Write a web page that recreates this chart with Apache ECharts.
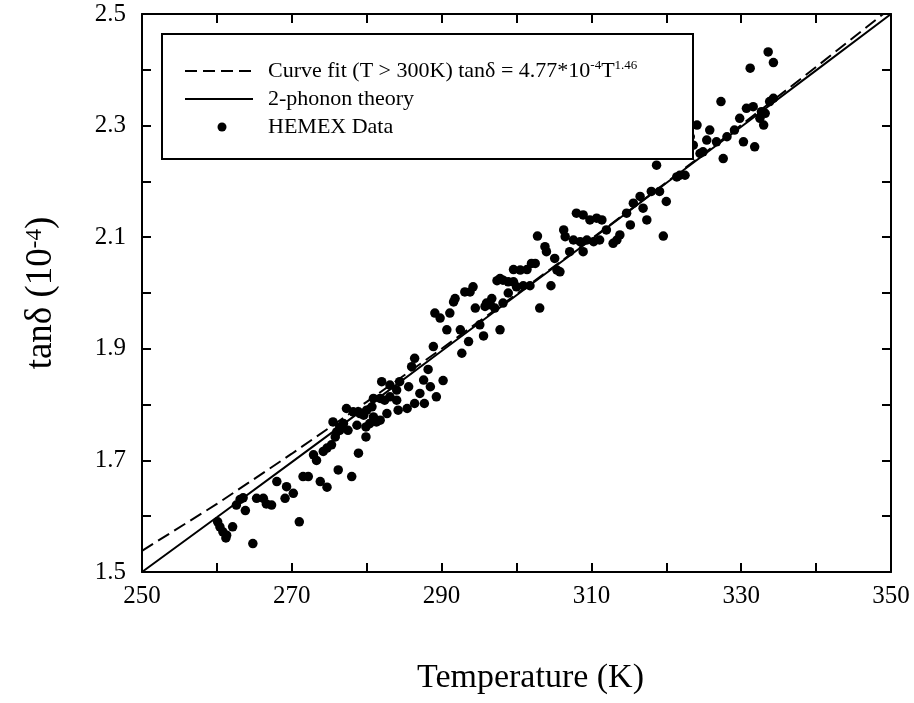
<!DOCTYPE html>
<html>
<head>
<meta charset="utf-8">
<script src="https://cdn.jsdelivr.net/npm/echarts@6/dist/echarts.min.js"></script>
<style>
html,body{margin:0;padding:0;background:#fff;}
#chart{width:914px;height:703px;}
</style>
</head>
<body>
<div id="chart"></div>
<script>
// ---- Data ----
const tempK = [
 260.1,260.4,260.8,261.2,261.3,262.1,264.8,262.6,263.1,263.8,263.5,265.3,266.2,266.6,267.3,268.0,269.3,270.2,269.1,271.0,
 271.5,272.2,273.8,274.7,272.9,273.3,274.2,274.7,275.3,275.8,276.0,276.4,276.2,278.0,278.9,277.3,278.2,276.9,277.5,278.7,
 279.9,279.1,280.0,280.9,280.4,281.8,282.7,282.4,280.9,282.0,284.0,284.2,
 302.8,303.8,304.0,305.1,305.4,304.6,303.1,299.6,300.5,301.4,302.0,302.5,297.4,298.2,299.6,300.0,300.9,301.8,298.9,294.2,
 293.8,293.1,291.8,291.6,291.1,289.1,289.8,294.5,295.8,296.7,296.5,297.1,295.1,295.6,293.6,292.7,297.8,290.7,292.5,288.9,
 286.4,286.0,288.2,290.2,283.1,284.4,284.0,285.6,287.6,287.1,288.5,289.3,286.4,287.7,285.4,283.1,278.9,279.6,280.7,281.8,
 275.5,276.4,279.9,281.3,
 318.7,320.0,319.6,317.4,316.9,316.5,318.0,319.1,315.6,314.7,315.2,313.8,312.9,313.4,308.0,308.9,309.8,310.7,311.4,312.0,
 311.1,310.3,309.4,308.5,307.6,306.3,306.5,308.9,307.1,305.8,297.8,298.9,296.0,298.2,
 333.6,334.3,331.2,327.3,330.7,331.6,332.7,333.2,332.5,333.0,334.3,333.8,331.8,330.3,327.6,329.8,329.1,328.1,326.7,325.8,
 325.4,324.9,324.1,323.2,323.6,324.5,321.8,322.5,321.4
];
const lossTangent = [
 1.590,1.581,1.572,1.561,1.566,1.581,1.551,1.620,1.630,1.610,1.633,1.632,1.632,1.622,1.620,1.662,1.653,1.641,1.632,1.590,
 1.671,1.671,1.662,1.652,1.710,1.700,1.716,1.722,1.728,1.742,1.751,1.754,1.683,1.671,1.713,1.793,1.787,1.766,1.754,1.763,
 1.742,1.784,1.790,1.778,1.766,1.772,1.784,1.808,1.811,1.841,1.808,1.790,
 2.102,2.083,2.074,2.062,2.041,2.013,1.973,2.042,2.041,2.042,2.053,2.053,2.022,2.023,2.020,2.011,2.013,2.013,2.000,2.011,
 2.002,2.002,1.990,1.984,1.964,1.964,1.955,1.973,1.976,1.990,1.979,1.973,1.943,1.923,1.913,1.892,1.934,1.934,1.934,1.904,
 1.883,1.868,1.863,1.843,1.835,1.841,1.826,1.832,1.844,1.820,1.832,1.814,1.802,1.802,1.793,1.814,1.787,1.781,1.796,1.811,
 1.769,1.760,1.760,1.769,
 2.229,2.164,2.102,2.131,2.152,2.173,2.182,2.182,2.161,2.143,2.122,2.104,2.089,2.095,2.143,2.140,2.131,2.134,2.131,2.113,
 2.095,2.092,2.095,2.092,2.095,2.113,2.101,2.074,2.074,2.038,2.026,2.020,1.982,1.982,
 2.432,2.413,2.403,2.343,2.331,2.334,2.325,2.322,2.313,2.301,2.349,2.343,2.262,2.271,2.241,2.313,2.292,2.280,2.271,2.292,
 2.274,2.253,2.301,2.280,2.265,2.250,2.211,2.211,2.208
];
const lineT        = [250, 260, 270, 280, 290, 300, 310, 320, 330, 340, 350];
const theoryVals   = [1.500, 1.598, 1.697, 1.796, 1.896, 1.996, 2.096, 2.197, 2.298, 2.399, 2.500];
const curveFitVals = [1.538, 1.622, 1.712, 1.805, 1.900, 1.998, 2.097, 2.198, 2.301, 2.405, 2.511];
const xTicks = [250, 270, 290, 310, 330, 350];
const yTicks = ['1.5', '1.7', '1.9', '2.1', '2.3', '2.5'];

const FONT = '"Liberation Serif", "DejaVu Serif", serif';
const chart = echarts.init(document.getElementById('chart'), null, {renderer: 'canvas'});

const scatterData = tempK.map((t, i) => [t, lossTangent[i]]);
const theoryData = lineT.map((t, i) => [t, theoryVals[i]]);
const fitData = lineT.map((t, i) => [t, curveFitVals[i]]);

const axisBase = {
  type: 'value',
  axisLine: {show: true, onZero: false, lineStyle: {color: '#000', width: 2}},
  axisTick: {show: true, inside: true, length: 9, lineStyle: {color: '#000', width: 2}},
  splitLine: {show: false}
};

const option = {
  animation: false,
  backgroundColor: '#fff',
  grid: {left: 142, right: 23, top: 14, bottom: 131},
  xAxis: [
    Object.assign({}, axisBase, {
      min: 250, max: 350, interval: 10, position: 'bottom',
      axisLabel: {
        color: '#000', fontFamily: FONT, fontSize: 25, margin: 12,
        formatter: v => xTicks.indexOf(Math.round(v)) >= 0 ? String(Math.round(v)) : ''
      },
      name: 'Temperature (K)', nameLocation: 'middle', nameGap: 89,
      nameTextStyle: {color: '#000', fontFamily: FONT, fontSize: 34, padding: [0, 0, 0, 28]}
    }),
    Object.assign({}, axisBase, {
      min: 250, max: 350, interval: 10, position: 'top',
      axisLabel: {show: false}
    })
  ],
  yAxis: [
    Object.assign({}, axisBase, {
      min: 1.5, max: 2.5, interval: 0.1, position: 'left',
      axisLabel: {
        color: '#000', fontFamily: FONT, fontSize: 25, margin: 16,
        formatter: v => { const s = v.toFixed(1); return yTicks.indexOf(s) >= 0 ? s : ''; }
      },
      name: 'tanδ (10{sup|-4})', nameLocation: 'middle', nameGap: 82, nameRotate: 90,
      nameTextStyle: {
        color: '#000', fontFamily: FONT, fontSize: 37,
        rich: {sup: {fontFamily: FONT, fontSize: 23, color: '#000', verticalAlign: 'top', padding: [0, 0, 14, 0]}}
      }
    }),
    Object.assign({}, axisBase, {
      min: 1.5, max: 2.5, interval: 0.1, position: 'right',
      axisLabel: {show: false}
    })
  ],
  series: [
    {
      name: 'Curve fit', type: 'line', data: fitData, showSymbol: false, clip: true,
      lineStyle: {color: '#000', width: 2, type: [13, 6]}, z: 3
    },
    {
      name: '2-phonon theory', type: 'line', data: theoryData, showSymbol: false, clip: true,
      lineStyle: {color: '#000', width: 2}, z: 3
    },
    {
      name: 'HEMEX Data', type: 'scatter', data: scatterData, symbol: 'circle', symbolSize: 9.5,
      itemStyle: {color: '#000', opacity: 1}, z: 4
    }
  ],
  graphic: [
    {type: 'rect', left: 161, top: 33, z: 10,
     shape: {width: 531, height: 125}, style: {fill: '#fff', stroke: '#000', lineWidth: 2}},
    {type: 'line', z: 11, shape: {x1: 185, y1: 71, x2: 253, y2: 71},
     style: {stroke: '#000', lineWidth: 2, lineDash: [12, 6]}},
    {type: 'line', z: 11, shape: {x1: 185, y1: 99, x2: 253, y2: 99},
     style: {stroke: '#000', lineWidth: 2}},
    {type: 'circle', z: 11, shape: {cx: 222, cy: 127, r: 4.5}, style: {fill: '#000'}},
    {type: 'text', z: 11, x: 268, y: 71,
     style: {text: 'Curve fit (T > 300K) tanδ = 4.77*10{sup|-4}T{sup|1.46}', fill: '#000',
             font: '22px ' + FONT, verticalAlign: 'middle',
             rich: {sup: {fontFamily: FONT, fontSize: 13, fill: '#000', verticalAlign: 'top', padding: [0, 0, 10, 0]}}}},
    {type: 'text', z: 11, x: 268, y: 99,
     style: {text: '2-phonon theory', fill: '#000', font: '22px ' + FONT, verticalAlign: 'middle'}},
    {type: 'text', z: 11, x: 268, y: 127,
     style: {text: 'HEMEX Data', fill: '#000', font: '22px ' + FONT, verticalAlign: 'middle'}}
  ]
};
chart.setOption(option);
</script>
</body>
</html>
